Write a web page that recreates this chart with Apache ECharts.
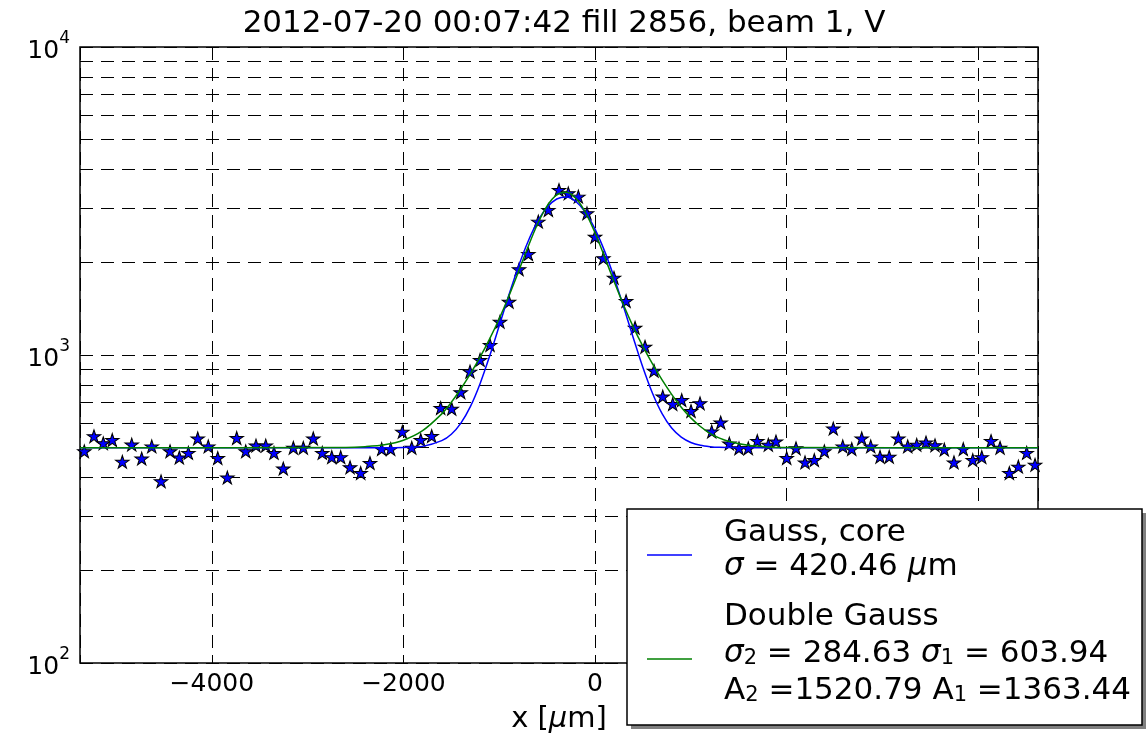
<!DOCTYPE html>
<html><head><meta charset="utf-8">
<script src="https://cdn.jsdelivr.net/npm/echarts@6/dist/echarts.min.js"></script>
<style>html,body{margin:0;padding:0;background:#fff}#c{width:1146px;height:737px}</style>
</head><body><div id="c"></div>
<script>
const chartTitle = '2012-07-20 00:07:42 fill 2856, beam 1, V';
const xAxisLabel = 'x [{i|\u03bc}m]';

// measured profile (x position in um, counts)
const xPositions = [-5331,-5230,-5133,-5039,-4934,-4836,-4732,-4627,-4530,-4436,
  -4339,-4245,-4147,-4037,-3938,-3838,-3740,-3646,-3539,-3437,
  -3351,-3254,-3149,-3045,-2941,-2847,-2748,-2655,-2557,-2446,
  -2349,-2227,-2133,-2011,-1913,-1819,-1705,-1611,-1496,-1402,
  -1305,-1200,-1096,-992,-898,-793,-696,-592,-487,-376,
  -279,-174,-84,0,87,198,324,418,522,616,
  707,811,905,1002,1096,1218,1312,1402,1503,1600,
  1694,1809,1889,2001,2098,2192,2289,2394,2487,2586,
  2680,2784,2878,2975,3071,3166,3264,3358,3455,3549,
  3646,3747,3844,3943,4037,4134,4228,4325,4419,4506,4593];
const counts = [487,545,517,530,450,512,461,505,389,487,
  465,481,536,505,463,400,538,487,508,508,
  481,428,500,500,536,481,466,466,432,414,
  446,495,495,563,500,530,546,673,669,757,
  883,964,1077,1282,1489,1897,2127,2710,2958,3434,
  3350,3267,2884,2421,2060,1782,1497,1226,1064,889,
  733,693,714,658,697,564,604,516,498,498,
  526,511,524,463,498,448,456,487,577,505,
  495,536,505,467,467,536,505,511,520,509,
  493,448,495,456,466,526,500,414,434,481,440];

// fitted curves
const fitX = [-5376,-2600,-2400,-2200,-2000,-1800,-1600,-1500,-1400,-1300,-1200,-1100,-1000,-900,-800,-700,-600,-500,-400,-300,-200,-100,0,100,200,300,400,500,600,700,800,900,1000,1100,1200,1300,1400,1600,1800,2000,4624];
const gaussCore = [500,500,500,500,501,505,527,553,601,681,807,992,1244,1564,1936,2333,2710,3018,3210,3257,3150,2906,2564,2174,1783,1428,1135,910,751,645,579,541,520,509,504,501.5,501,500,500,500,500];
const doubleGauss = [500,501,504,511,529,568,644,702,777,870,984,1128,1311,1551,1861,2242,2662,3049,3313,3379,3229,2904,2493,2082,1728,1447,1232,1066,935,830,745,677,625,586,557,537,524,509,503,501,500];

const minorGridValues = [200,300,400,500,600,700,800,900,2000,3000,4000,5000,6000,7000,8000,9000];

const legendEntries = [
  {text: 'Gauss, core', y: 533},
  {text: '{i|\u03c3} = 420.46 {i|\u03bc}m', y: 567},
  {text: 'Double Gauss', y: 617},
  {text: '{i|\u03c3}{s|2} = 284.63 {i|\u03c3}{s|1} = 603.94', y: 654},
  {text: 'A{s|2} =1520.79 A{s|1} =1363.44', y: 691}
];

const FONT = 'DejaVu Sans';
const STAR = 'path://M100 0L122.45 69.1L195.1 69.1L136.3 111.8L158.8 180.9L100 138.2L41.2 180.9L63.7 111.8L4.9 69.1L77.55 69.1Z';
const DASH = [13, 8];
const LFS = 31;

const chart = echarts.init(document.getElementById('c'), null, {renderer: 'canvas'});

const richLegend = {
  i: {fontStyle: 'italic', fontSize: LFS, fontFamily: FONT, lineHeight: 30},
  s: {fontSize: 21, fontFamily: FONT, lineHeight: 6, verticalAlign: 'bottom'}
};

const graphics = [
  {type: 'rect', z: 100, shape: {x: 631, y: 513, width: 515, height: 216}, style: {fill: '#808080'}},
  {type: 'rect', z: 101, shape: {x: 627, y: 509, width: 515, height: 216}, style: {fill: '#fff', stroke: '#000', lineWidth: 1.5}},
  {type: 'line', z: 102, shape: {x1: 647, y1: 555, x2: 692, y2: 555}, style: {stroke: '#0000ff', lineWidth: 1.5}},
  {type: 'line', z: 102, shape: {x1: 647, y1: 659, x2: 692, y2: 659}, style: {stroke: '#008000', lineWidth: 1.5}}
];
legendEntries.forEach(e => {
  graphics.push({type: 'text', z: 102, x: 724, y: e.y, style: {
    text: e.text, fill: '#000', fontSize: LFS, fontFamily: FONT, lineHeight: 30,
    align: 'left', verticalAlign: 'middle', rich: richLegend
  }});
});

const option = {
  animation: false,
  backgroundColor: '#fff',
  title: {
    text: chartTitle, left: 559, textAlign: 'center', top: 3,
    textStyle: {fontFamily: FONT, fontSize: 31, fontWeight: 'normal', color: '#000'}
  },
  grid: {left: 80, right: 108, top: 47, bottom: 74, show: true, borderColor: '#000', borderWidth: 1.5, backgroundColor: 'transparent', containLabel: false, outerBoundsMode: 'none'},
  xAxis: [{
    type: 'value', min: -5376, max: 4624, position: 'bottom',
    axisLine: {show: false},
    axisTick: {show: true, inside: true, length: 8, lineStyle: {color: '#000', width: 1}},
    axisLabel: {
      margin: 9, fontFamily: FONT, fontSize: 25, color: '#000',
      formatter: v => (Math.abs(v % 2000) < 1e-6 ? (v < 0 ? '\u2212' + (-v) : String(v)) : '')
    },
    splitLine: {show: true, lineStyle: {color: '#000', type: DASH, width: 1}},
    name: xAxisLabel, nameLocation: 'middle', nameGap: 42,
    nameTextStyle: {fontFamily: FONT, fontSize: 29, color: '#000', rich: {i: {fontStyle: 'italic', fontFamily: FONT, fontSize: 29}}}
  }, {
    type: 'value', min: -5376, max: 4624, position: 'top',
    axisLine: {show: false},
    axisTick: {show: true, inside: true, length: 8, lineStyle: {color: '#000', width: 1}},
    axisLabel: {show: false}, splitLine: {show: false}
  }],
  yAxis: [{
    type: 'log', logBase: 10, min: 100, max: 10000, position: 'left',
    axisLine: {show: false},
    axisTick: {show: true, inside: true, length: 8, lineStyle: {color: '#000', width: 1}},
    axisLabel: {
      margin: 10, fontFamily: FONT, color: '#000',
      formatter: v => '{b|10}{s|' + Math.round(Math.log10(v)) + '}',
      rich: {
        b: {fontFamily: FONT, fontSize: 25, color: '#000', lineHeight: 34, verticalAlign: 'bottom'},
        s: {fontFamily: FONT, fontSize: 17, color: '#000', lineHeight: 17, verticalAlign: 'top'}
      }
    },
    splitLine: {show: true, lineStyle: {color: '#000', type: DASH, width: 1}}
  }, {
    type: 'log', logBase: 10, min: 100, max: 10000, position: 'right',
    axisLine: {show: false},
    axisTick: {show: true, inside: true, length: 8, lineStyle: {color: '#000', width: 1}},
    axisLabel: {show: false}, splitLine: {show: false}
  }],
  series: [{
    type: 'scatter', name: 'data', z: 3,
    symbol: STAR, symbolSize: [13.5, 12.8],
    itemStyle: {color: '#0000ff', borderColor: '#000', borderWidth: 1, opacity: 1},
    data: xPositions.map((x, i) => [x, counts[i]]),
    markLine: {
      silent: true, symbol: ['none', 'none'], label: {show: false}, z: 1,
      lineStyle: {color: '#000', type: DASH, width: 1},
      data: minorGridValues.map(v => ({yAxis: v}))
    }
  }, {
    type: 'line', name: 'Gauss, core', z: 4, showSymbol: false, smooth: 0.3,
    lineStyle: {color: '#0000ff', width: 1.5}, itemStyle: {color: '#0000ff'},
    data: fitX.map((x, i) => [x, gaussCore[i]])
  }, {
    type: 'line', name: 'Double Gauss', z: 5, showSymbol: false, smooth: 0.3,
    lineStyle: {color: '#008000', width: 1.5}, itemStyle: {color: '#008000'},
    data: fitX.map((x, i) => [x, doubleGauss[i]])
  }],
  graphic: graphics
};
chart.setOption(option);
</script>
</body></html>
